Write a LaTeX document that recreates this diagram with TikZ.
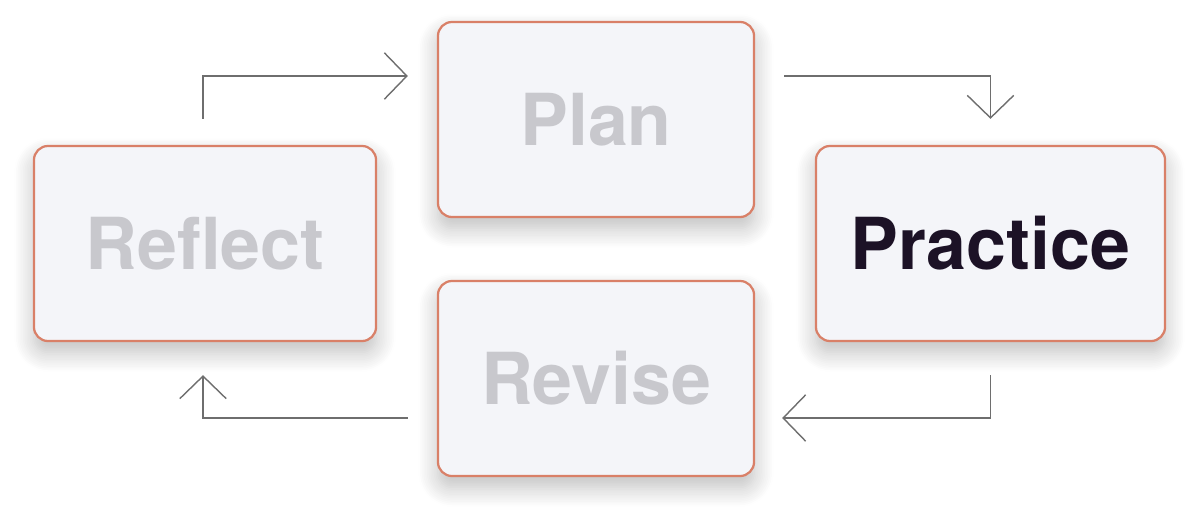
\documentclass[tikz,border=0pt]{standalone}
\usepackage{fontspec}
\setmainfont{TeX Gyre Heros}
\usetikzlibrary{arrows.meta,shadows.blur,calc}
\definecolor{boxfill}{HTML}{F4F5F9}
\definecolor{boxedge}{HTML}{D98068}
\definecolor{mutedtext}{HTML}{C8C8CD}
\definecolor{activetext}{HTML}{1C1226}
\definecolor{flowgray}{HTML}{6E6E6E}
\newcommand{\BoxFont}{\fontsize{51}{60}\selectfont\bfseries}

\begin{document}
\begin{tikzpicture}[x=.025cm,y=-.025cm,
  stagebox/.style={draw=boxedge,fill=boxfill,line width=1.6pt,rounded corners=10pt,
    minimum height=4.875cm,inner sep=0pt,font=\BoxFont,text=mutedtext,
    blur shadow={shadow xshift=0pt,shadow yshift=-8pt,shadow blur radius=14pt,
      shadow blur steps=12,shadow opacity=26}},
  flow/.style={draw=flowgray,line width=1pt,-{Straight Barb[length=16pt,width=33pt,line width=1pt]}}]
  \useasboundingbox (0,0) rectangle (1200,520);
  % the four stages
  \node[stagebox,minimum width=8.55cm] (reflect) at (205,243.5) {Reflect};
  \node[stagebox,minimum width=7.9cm] (plan) at (596,119.5) {Plan};
  \node[stagebox,minimum width=8.725cm,text=activetext] (practice) at (990.5,243.5) {Practice};
  \node[stagebox,minimum width=7.9cm] (revise) at (596,378.5) {Revise};
  % free ends of the connectors
  \coordinate (reflect-out) at ($(reflect.north)+(-2,-26)$);
  \coordinate (plan-in) at ($(plan.west)+(-29,-43.5)$);
  \coordinate (plan-out) at ($(plan.east)+(29,-43.5)$);
  \coordinate (practice-in) at ($(practice.north)+(0,-26)$);
  \coordinate (practice-out) at ($(practice.south)+(0,33)$);
  \coordinate (revise-in) at ($(revise.east)+(27,39.5)$);
  \coordinate (revise-out) at ($(revise.west)+(-29,39.5)$);
  \coordinate (reflect-in) at ($(reflect.south)+(-2,33)$);
  \draw[flow] (reflect-out) |- (plan-in);
  \draw[flow] (plan-out) -| (practice-in);
  \draw[flow] (practice-out) |- (revise-in);
  \draw[flow] (revise-out) -| (reflect-in);
\end{tikzpicture}
\end{document}
